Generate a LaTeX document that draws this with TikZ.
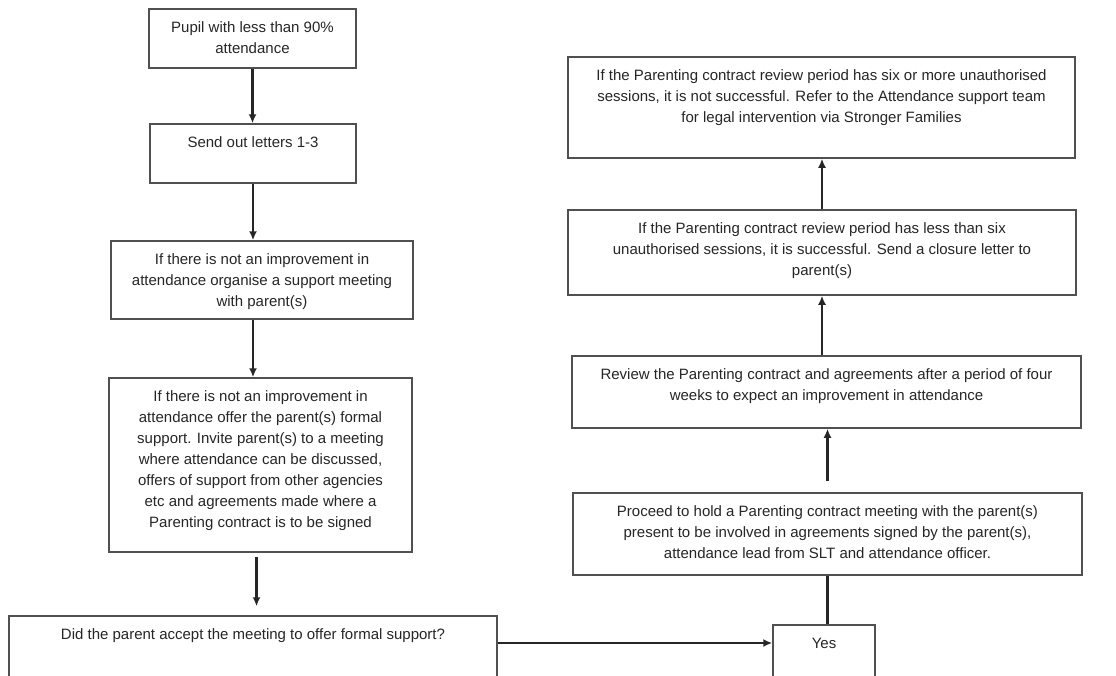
\documentclass[tikz,border=0pt]{standalone}
\usepackage{fontspec}
\setmainfont{Liberation Sans}
\usetikzlibrary{calc,arrows.meta}
\definecolor{boxGray}{HTML}{505050}
\definecolor{inkGray}{HTML}{262626}
\newcommand\stageText[3]{%
  \parbox[c][#2][t]{#1}{\centering\vspace*{9pt}\strut #3}}

\begin{document}
\begin{tikzpicture}[x=1pt,y=1pt,
    stage/.style={draw=boxGray,line width=1.5pt,inner sep=0pt,text=inkGray,
      font=\fontsize{15}{21}\selectfont},
    flow/.style={draw=inkGray,line width=2.2pt,-{Latex[length=9pt,width=8pt]}},
    link/.style={draw=inkGray,line width=2.2pt}]
  \clip (0,0) rectangle (1116,-675);
  \fill[white] (0,0) rectangle (1116,-675);

  %% Left column: from the pupil down to the question
  \node[stage] (pupil) at (252.5,-38.5)
    {\stageText{207pt}{59pt}{Pupil with less than 90\%\\attendance}};
  \node[stage] (send) at (253,-153.5)
    {\stageText{206pt}{59pt}{Send out letters 1-3}};
  \node[stage] (meet) at (262,-280)
    {\stageText{302pt}{78pt}{If there is not an improvement in\\
      attendance organise a support meeting\\with parent(s)}};
  \node[stage] (formal) at (260.5,-465)
    {\stageText{303pt}{174pt}{If there is not an improvement in\\
      attendance offer the parent(s) formal\\
      support. Invite parent(s) to a meeting\\
      where attendance can be discussed,\\
      offers of support from other agencies\\
      etc and agreements made where a\\
      Parenting contract is to be signed}};
  \node[stage] (did) at (253,-653)
    {\stageText{488pt}{74pt}{Did the parent accept the meeting to offer formal support?}};
  \node[stage] (yes) at (824,-657.5)
    {\stageText{102pt}{65pt}{Yes}};

  %% Right column: from the contract meeting up to the outcomes
  \node[stage] (proceed) at (827.5,-534)
    {\stageText{509pt}{82pt}{Proceed to hold a Parenting contract meeting with the parent(s)\\
      present to be involved in agreements signed by the parent(s),\\
      attendance lead from SLT and attendance officer.}};
  \node[stage] (review) at (826.5,-392)
    {\stageText{509pt}{72pt}{Review the Parenting contract and agreements after a period of four\\
      weeks to expect an improvement in attendance}};
  \node[stage] (less) at (822,-252.5)
    {\stageText{508pt}{85pt}{If the Parenting contract review period has less than six\\
      unauthorised sessions, it is successful. Send a closure letter to\\
      parent(s)}};
  \node[stage] (more) at (821.5,-107.5)
    {\stageText{507pt}{101pt}{If the Parenting contract review period has six or more unauthorised\\
      sessions, it is not successful. Refer to the Attendance support team\\
      for legal intervention via Stronger Families}};

  %% Connectors
  \draw[flow] (pupil.south) -- (pupil.south |- send.north);
  \draw[flow] (send.south) -- (send.south |- meet.north);
  \draw[flow] (meet.south -| send.south) -- (formal.north -| send.south);
  \draw[flow,shorten <=4pt,shorten >=9pt] ([xshift=-4pt]formal.south)
    -- ([xshift=-4pt]formal.south |- did.north);
  \draw[flow] ([yshift=10pt]did.east) -- ([yshift=10pt]did.east -| yes.west);
  \draw[link] (yes.north -| proceed.south) -- (proceed.south);
  \draw[flow,shorten <=11pt] (proceed.north) -- (proceed.north |- review.south);
  \draw[flow] (review.north -| less.south) -- (less.south);
  \draw[flow] (less.north) -- (less.north |- more.south);

\end{tikzpicture}
\end{document}
